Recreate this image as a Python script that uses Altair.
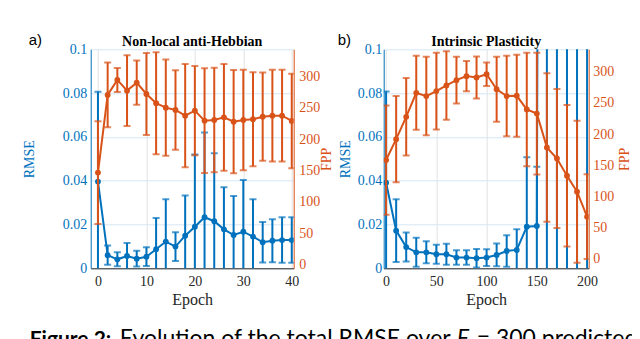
import altair as alt
import pandas as pd

BLUE = "#0072BD"
ORANGE = "#D95319"
DARK = "#262626"
SERIF = "Liberation Serif"

# ---- panel a: Non-local anti-Hebbian ----
epochs_a = list(range(0, 41, 2))
rmse_a = [0.0396, 0.0060, 0.0041, 0.0056, 0.0044, 0.0053, 0.0087, 0.0122, 0.0099, 0.0149, 0.0190,
          0.0233, 0.0215, 0.0178, 0.0152, 0.0167, 0.0145, 0.0119, 0.0126, 0.0129, 0.0129]
rmse_a_err = [0.0410, 0.0044, 0.0032, 0.0060, 0.0036, 0.0043, 0.0143, 0.0193, 0.0066, 0.0183, 0.0330,
              0.0387, 0.0310, 0.0192, 0.0178, 0.0236, 0.0170, 0.0092, 0.0098, 0.0104, 0.0104]
fpp_a = [146.6, 270.8, 294.8, 277.7, 290.5, 272.4, 257.5, 250.5, 246.8, 237.7, 245.7,
         229.7, 230.8, 235.0, 228.0, 230.8, 231.9, 236.0, 237.7, 237.7, 229.2]
fpp_a_err = [82.3, 51.8, 19.3, 56.5, 35.3, 65.6, 81.5, 76.9, 63.5, 82.4, 71.5,
             83.7, 83.7, 85.3, 82.6, 80.5, 75.3, 70.6, 73.4, 73.4, 75.5]

# ---- panel b: Intrinsic Plasticity ----
epochs_b = list(range(0, 201, 10))
rmse_b = [0.0391, 0.0172, 0.0097, 0.0073, 0.0073, 0.0064, 0.0064, 0.0049, 0.0049, 0.0046, 0.0049,
          0.0061, 0.0079, 0.0084, 0.0190, 0.0193, 1.5, 1.8, 2.1, 2.4, 2.8]
rmse_b_err = [0.0416, 0.0143, 0.0066, 0.0066, 0.0050, 0.0043, 0.0048, 0.0033, 0.0033, 0.0042, 0.0038,
              0.0052, 0.0072, 0.0094, 0.0317, 0.0271, 1.6, 1.9, 2.2, 2.5, 2.9]
fpp_b = [158.5, 192.0, 227.8, 266.3, 261.0, 269.0, 278.0, 286.5, 293.0, 290.8, 296.0,
         272.0, 261.0, 261.5, 239.6, 233.0, 178.8, 161.0, 133.4, 107.8, 67.8]
fpp_b_err = [87.5, 69.2, 62.2, 59.3, 62.9, 61.5, 54.8, 37.5, 24.3, 33.5, 18.8,
             52.0, 64.5, 65.8, 91.0, 97.5, 119.0, 111.3, 113.4, 113.8, 68.0]

titles = ["Non-local anti-Hebbian", "Intrinsic Plasticity"]
tags = ["a)", "b)"]
rmse_ticks = [0, 0.02, 0.04, 0.06, 0.08, 0.1]
fpp_ticks = [0, 50, 100, 150, 200, 250, 300]
caption_parts = ["Figure 2:", "Evolution of the total RMSE over", "F", "= 300 predicted"]


def panel(epochs, rmse, rmse_err, fpp, fpp_err, title, tag, xdomain, xticks, fdomain, width,
          lpad, ltp, lext, rpad, rtp, rext, tag_x, caption=False):
    df = pd.DataFrame({"epoch": epochs, "rmse": rmse, "rerr": rmse_err, "fpp": fpp, "ferr": fpp_err})
    df["r_lo"] = df["rmse"] - df["rerr"]
    df["r_hi"] = df["rmse"] + df["rerr"]
    df["f_lo"] = df["fpp"] - df["ferr"]
    df["f_hi"] = df["fpp"] + df["ferr"]
    base = alt.Chart(df)

    xax = alt.Axis(values=xticks, title="Epoch", format="d", labelFlush=False,
                   labelFont=SERIF, titleFont=SERIF, titleFontWeight="normal",
                   labelColor=DARK, titleColor=DARK, domainColor=DARK, ticks=False,
                   grid=True, gridColor="#e2e2e2", labelPadding=6, titlePadding=3,
                   titleFontSize=16, labelFontSize=14)
    X = alt.X("epoch:Q", scale=alt.Scale(domain=xdomain, nice=False, zero=False), axis=xax)

    bax = alt.Axis(orient="left", values=rmse_ticks, format="~g", title="RMSE",
                   labelFont=SERIF, titleFont=SERIF, titleFontWeight="normal", ticks=False,
                   labelColor=BLUE, titleColor=BLUE, domainColor=BLUE,
                   grid=True, gridColor="#d6e7f4", labelPadding=lpad, titlePadding=ltp,
                   minExtent=lext, maxExtent=lext, labelFontSize=14, titleFontSize=14)
    bscale = alt.Scale(domain=[0, 0.1], nice=False, zero=False)

    oax = alt.Axis(orient="right", values=fpp_ticks, format="d", title="FPP",
                   labelFont=SERIF, titleFont=SERIF, titleFontWeight="normal", ticks=False,
                   labelColor=ORANGE, titleColor=ORANGE, domainColor=ORANGE,
                   grid=False, labelPadding=rpad, titlePadding=rtp, titleAngle=270,
                   minExtent=rext, maxExtent=rext, labelFontSize=14, titleFontSize=14)
    oscale = alt.Scale(domain=fdomain, nice=False, zero=False)

    def series(color, mean, lo, hi, scale, ax):
        rule = base.mark_rule(color=color, strokeWidth=2, clip=True).encode(
            x=X, y=alt.Y(f"{lo}:Q", scale=scale, axis=ax), y2=f"{hi}:Q")
        cap_lo = base.mark_tick(color=color, orient="horizontal", size=7, thickness=2, clip=True).encode(
            x=X, y=alt.Y(f"{lo}:Q", scale=scale, axis=ax))
        cap_hi = base.mark_tick(color=color, orient="horizontal", size=7, thickness=2, clip=True).encode(
            x=X, y=alt.Y(f"{hi}:Q", scale=scale, axis=ax))
        line = base.mark_line(color=color, strokeWidth=2, clip=True).encode(
            x=X, y=alt.Y(f"{mean}:Q", scale=scale, axis=ax))
        pts = base.mark_circle(color=color, size=34, opacity=1, clip=True).encode(
            x=X, y=alt.Y(f"{mean}:Q", scale=scale, axis=ax))
        return alt.layer(rule, cap_lo, cap_hi, line, pts)

    blue = series(BLUE, "rmse", "r_lo", "r_hi", bscale, bax)
    orange = series(ORANGE, "fpp", "f_lo", "f_hi", oscale, oax)

    tag_mark = alt.Chart(pd.DataFrame({"t": [tag]})).mark_text(
        font="Liberation Sans", fontSize=15, align="left", baseline="alphabetic", color="black"
    ).encode(text="t:N", x=alt.value(tag_x), y=alt.value(-4))
    title_mark = alt.Chart(pd.DataFrame({"t": [title]})).mark_text(
        font=SERIF, fontSize=14, fontWeight="bold", align="center", baseline="alphabetic", color="black"
    ).encode(text="t:N", x=alt.value(width / 2), y=alt.value(-3))
    layers = [blue, orange, tag_mark, title_mark]

    if caption:
        cap_styles = [("bold", "normal", -61, 21), ("normal", "normal", 29, 23),
                      ("normal", "italic", 366, 23), ("normal", "normal", 386, 23)]
        for txt, (fw, fs, cx, fsz) in zip(caption_parts, cap_styles):
            layers.append(alt.Chart(pd.DataFrame({"t": [txt]})).mark_text(
                font="Lato", fontSize=fsz, fontWeight=fw, fontStyle=fs,
                align="left", baseline="alphabetic", color="black"
            ).encode(text="t:N", x=alt.value(cx), y=alt.value(297)))

    return alt.layer(*layers).resolve_scale(y="independent").properties(width=width, height=219)


pa = panel(epochs_a, rmse_a, rmse_a_err, fpp_a, fpp_a_err, titles[0], tags[0],
           [-1.5, 40.4], [0, 10, 20, 30, 40], [-6.4, 343.8], 203,
           lpad=4, ltp=23, lext=31, rpad=5, rtp=14, rext=26, tag_x=-62, caption=True)
pb = panel(epochs_b, rmse_b, rmse_b_err, fpp_b, fpp_b_err, titles[1], tags[1],
           [-2.4, 201.6], [0, 50, 100, 150, 200], [-15, 336], 205,
           lpad=2, ltp=2, lext=29, rpad=4, rtp=13, rext=30, tag_x=-46)

chart = alt.hconcat(pa, pb, spacing=90, bounds="flush").properties(
    autosize=alt.AutoSizeParams(type="none"),
    padding={"left": 82.7, "top": 41.3, "right": 541, "bottom": 289}
).configure_view(stroke=None).configure_axis(
    labelFont=SERIF, titleFont=SERIF, ticks=False, titleFontWeight="normal", domainWidth=1
)

chart.save("out.html", embed_options={"renderer": "svg", "actions": False})
